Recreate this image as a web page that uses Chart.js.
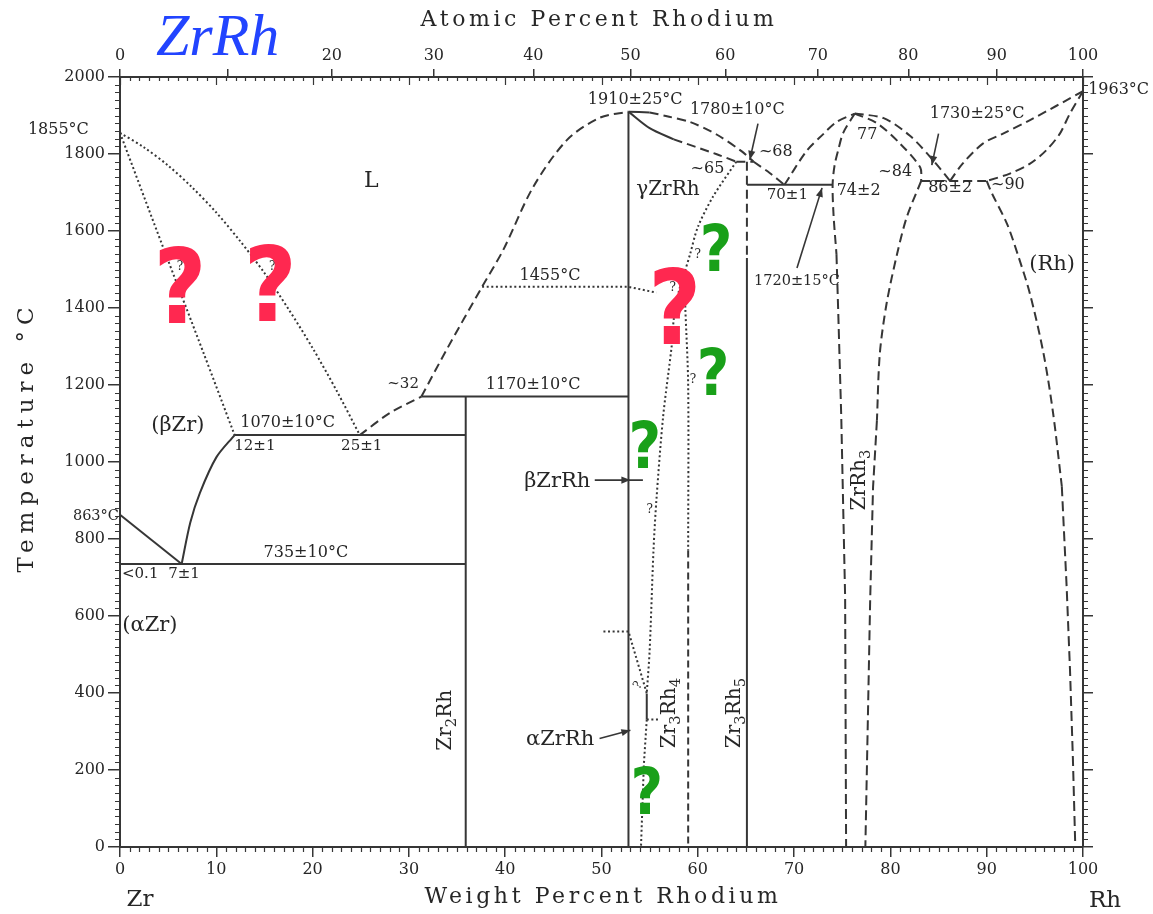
<!DOCTYPE html>
<html>
<head>
<meta charset="utf-8">
<title>Zr–Rh phase diagram</title>
<script src="https://cdn.jsdelivr.net/npm/chart.js@4.4.1/dist/chart.umd.min.js"></script>
<style>
  html, body { margin: 0; padding: 0; background: #ffffff; }
  canvas { display: block; }
</style>
</head>
<body>
<canvas id="diagram" width="1153" height="914"></canvas>
<script>
// Zr–Rh binary phase diagram: temperature (°C) against weight percent rhodium.

// ---------- axis ticks ----------
const weightPercentTicks = [0, 10, 20, 30, 40, 50, 60, 70, 80, 90, 100];
const atomicPercentTicks = [0, 10, 20, 30, 40, 50, 60, 70, 80, 90, 100];
const temperatureTicks = [0, 200, 400, 600, 800, 1000, 1200, 1400, 1600, 1800, 2000];

// atomic masses used to place the atomic-percent scale on the weight-percent axis
const M_ZR = 91.224, M_RH = 102.906;
function atToWt(a) { return 100 * a * M_RH / (a * M_RH + (100 - a) * M_ZR); }

// ---------- phase boundaries: [wt% Rh, °C] ----------
// Zr-rich side
const liquidusZr      = [[0,1855],[2.5,1817],[5,1770],[7.5,1713],[10,1648],[12.5,1573],[15,1491],[17.5,1397],[20,1296],[22.5,1185],[24.9,1070]];
const solidusBetaZr   = [[0,1855],[4.5,1556],[8.6,1288],[11.9,1070]];
const solvusBetaZr    = [[6.4,735],[7.3,843],[8.3,920],[10,1012],[11.9,1070]];
const solvusAlphaZr   = [[0,863],[6.4,735]];
const eutectoid735    = [[0,735],[35.9,735]];
const eutectic1070    = [[11.9,1070],[35.9,1070]];
const peritectic1170  = [[31.3,1170],[52.8,1170]];
const phaseZr2Rh      = [[35.9,0],[35.9,1170]];
const liquidusLow     = [[24.9,1070],[28,1127],[31.3,1170]];
const liquidusZrRhL   = [[31.3,1170],[33.9,1291],[37.6,1455],[39.8,1551],[42.9,1714],[46.4,1836],[49.8,1894],[52.8,1910]];
const transition1455  = [[37.6,1455],[52.8,1455],[55.7,1440]];

// ZrRh region
const phaseZrRh       = [[52.8,0],[52.8,1910]];
const solidusGammaA   = [[52.8,1910],[55,1867],[57.5,1838]];
const solidusGammaB   = [[57.5,1838],[61.9,1800],[64,1780]];
const liquidusGammaA  = [[52.8,1910],[55,1908]];
const liquidusGammaB  = [[55,1908],[56.8,1898],[59.2,1883],[62,1850],[64.5,1808],[65.8,1780]];
const peritectic1780  = [[64,1780],[65.8,1780]];
const boundaryGamma   = [[64,1780],[61.6,1690],[60,1610],[59.2,1540],[58.6,1490],[58,1440],[57.5,1370],[57.3,1304],[56.4,1118],[55.7,901],[55.4,771],[55,511],[54.7,399]];
const transition560   = [[50.2,560],[52.8,560],[54.7,399]];
const stepAlphaZrRh   = [[54.7,399],[54.7,331]];
const ledge331        = [[54.7,331],[56.1,331]];
const boundaryAlpha   = [[54.7,331],[54.4,215],[54.1,0]];
const phaseZr3Rh4Top  = [[58.6,1490],[58.7,1403],[59,1200],[59,770]];
const phaseZr3Rh4     = [[59,770],[59,0]];
const phaseZr3Rh5Top  = [[65.1,1780],[65.1,1530]];
const phaseZr3Rh5     = [[65.1,1530],[65.1,0]];

// ZrRh3 and Rh-rich side
const eutectic1720    = [[65.1,1720],[74,1720]];
const liquidusVLeft   = [[65.8,1780],[67.5,1750],[69,1720]];
const liquidusVRight  = [[69,1720],[71.3,1808],[73,1851],[74.4,1883],[76.3,1905]];
const liquidusZrRh3R  = [[76.3,1905],[79.3,1893],[82,1848],[84.5,1782],[86.2,1730]];
const boundaryZrRh3L  = [[76.3,1905],[75.1,1855],[74.6,1812],[74.2,1770],[74,1720],[74.1,1640],[74.4,1540]];
const boundaryZrRh3LLow = [[74.4,1540],[74.6,1375],[74.9,1115],[75.1,880],[75.3,648],[75.35,320],[75.4,0]];
const solidusZrRh3R   = [[76.3,1905],[78.6,1880],[81,1827],[83.1,1765],[83.2,1730]];
const solvusZrRh3R    = [[83.2,1730],[81.7,1636],[80.7,1541],[79.6,1411],[78.9,1281],[78.6,1108]];
const solvusZrRh3RLow = [[78.6,1108],[78.2,935],[77.9,642],[77.65,320],[77.4,0]];
const eutectic1730    = [[83.2,1730],[90,1730]];
const liquidusRh      = [[100,1963],[94.5,1888],[91.7,1853],[89.6,1827],[87.5,1775],[86.2,1730]];
const solidusRh       = [[100,1963],[98.6,1903],[97.6,1853],[96.2,1810],[94.5,1775],[92.4,1749],[90,1730]];
const solvusRh        = [[90,1730],[90.5,1700],[92.1,1619],[93.2,1541],[94.5,1436],[95.9,1282],[96.9,1126],[97.8,937]];
const solvusRhLow     = [[97.8,937],[98.3,677],[98.65,460],[98.95,230],[99.2,0]];

// ---------- drawing styles ----------
const INK = '#363636';
const TEXT = '#262626';
const SERIF = '"DejaVu Serif", "Liberation Serif", serif';
const DASHES = { solid: [], dashed: [9, 5], dotted: [2, 2.6], fine: [7, 4], long: [10, 5] };

const boundaries = [
  { pts: liquidusZr,        style: 'dotted', curve: true },
  { pts: solidusBetaZr,     style: 'dotted', curve: true },
  { pts: solvusBetaZr,      style: 'solid',  curve: true },
  { pts: solvusAlphaZr,     style: 'solid' },
  { pts: eutectoid735,      style: 'solid' },
  { pts: eutectic1070,      style: 'solid' },
  { pts: peritectic1170,    style: 'solid' },
  { pts: phaseZr2Rh,        style: 'solid' },
  { pts: liquidusLow,       style: 'dashed', curve: true },
  { pts: liquidusZrRhL,     style: 'dashed', curve: true },
  { pts: transition1455,    style: 'dotted' },
  { pts: phaseZrRh,         style: 'solid' },
  { pts: solidusGammaA,     style: 'solid',  curve: true },
  { pts: solidusGammaB,     style: 'dashed', curve: true },
  { pts: liquidusGammaA,    style: 'solid',  curve: true },
  { pts: liquidusGammaB,    style: 'dashed', curve: true },
  { pts: peritectic1780,    style: 'dashed' },
  { pts: boundaryGamma,     style: 'dotted', curve: true },
  { pts: transition560,     style: 'dotted' },
  { pts: stepAlphaZrRh,     style: 'solid' },
  { pts: ledge331,          style: 'dotted' },
  { pts: boundaryAlpha,     style: 'dotted' },
  { pts: phaseZr3Rh4Top,    style: 'dotted', curve: true },
  { pts: phaseZr3Rh4,       style: 'fine' },
  { pts: phaseZr3Rh5Top,    style: 'dashed' },
  { pts: phaseZr3Rh5,       style: 'solid' },
  { pts: eutectic1720,      style: 'solid' },
  { pts: liquidusVLeft,     style: 'dashed', curve: true },
  { pts: liquidusVRight,    style: 'dashed', curve: true },
  { pts: liquidusZrRh3R,    style: 'dashed', curve: true },
  { pts: boundaryZrRh3L,    style: 'dashed', curve: true },
  { pts: boundaryZrRh3LLow, style: 'long' },
  { pts: solidusZrRh3R,     style: 'dashed', curve: true },
  { pts: solvusZrRh3R,      style: 'dashed', curve: true },
  { pts: solvusZrRh3RLow,   style: 'long' },
  { pts: eutectic1730,      style: 'dashed' },
  { pts: liquidusRh,        style: 'dashed', curve: true },
  { pts: solidusRh,         style: 'dashed', curve: true },
  { pts: solvusRh,          style: 'dashed', curve: true },
  { pts: solvusRhLow,       style: 'long' }
];

// ---------- annotations (placed in wt% / °C) ----------
const notes = [
  { t: '1855°C',    x: -6.4,  y: 1863 },
  { t: '863°C',     x: -2.5,  y: 860, s: 14.5 },
  { t: '1963°C',    x: 103.7, y: 1967 },
  { t: 'L',         x: 26.1,  y: 1730, s: 22 },
  { t: '(βZr)',     x: 6.0,   y: 1094, s: 21 },
  { t: '1070±10°C', x: 17.4,  y: 1101 },
  { t: '12±1',      x: 14.0,  y: 1042, s: 15 },
  { t: '25±1',      x: 25.1,  y: 1042, s: 15 },
  { t: '~32',       x: 29.4,  y: 1203, s: 15 },
  { t: '1170±10°C', x: 42.9,  y: 1200 },
  { t: '735±10°C',  x: 19.3,  y: 763 },
  { t: '<0.1',      x: 2.1,   y: 709, s: 15 },
  { t: '7±1',       x: 6.65,  y: 709, s: 15 },
  { t: '(αZr)',     x: 3.1,   y: 576, s: 21 },
  { t: '1455°C',    x: 44.65, y: 1483 },
  { t: '1910±25°C', x: 53.5,  y: 1941 },
  { t: '1780±10°C', x: 64.1,  y: 1915 },
  { t: '~65',       x: 61.0,  y: 1762 },
  { t: '~68',       x: 68.1,  y: 1806 },
  { t: 'γZrRh',     x: 56.9,  y: 1707, s: 20 },
  { t: '70±1',      x: 69.3,  y: 1694, s: 15 },
  { t: '74±2',      x: 76.7,  y: 1704 },
  { t: '77',        x: 77.6,  y: 1850 },
  { t: '~84',       x: 80.5,  y: 1754 },
  { t: '86±2',      x: 86.2,  y: 1712 },
  { t: '~90',       x: 92.2,  y: 1720 },
  { t: '1730±25°C', x: 89.0,  y: 1904 },
  { t: '1720±15°C', x: 70.3,  y: 1470, s: 14.5 },
  { t: '(Rh)',      x: 96.8,  y: 1512, s: 21 },
  { t: 'βZrRh',     x: 45.4,  y: 948, s: 21 },
  { t: 'αZrRh',     x: 45.7,  y: 280, s: 21 }
];

// vertical phase names, read bottom to top; second entry of a part marks a subscript
const phaseNames = [
  { parts: [['ZrRh', 0], ['3', 1]],                    x: 76.8,  y: 953 },
  { parts: [['Zr', 0], ['3', 1], ['Rh', 0], ['4', 1]], x: 57.1,  y: 348 },
  { parts: [['Zr', 0], ['3', 1], ['Rh', 0], ['5', 1]], x: 63.8,  y: 348 },
  { parts: [['Zr', 0], ['2', 1], ['Rh', 0]],           x: 33.85, y: 329 }
];

// uncertainty marks
const smallQueries = [
  { x: 6.23, y: 1508 }, { x: 15.8, y: 1508 }, { x: 57.4, y: 1452 },
  { x: 60.0, y: 1538 }, { x: 59.5, y: 1213 }, { x: 55.0, y: 875 },
  { x: 53.8, y: 420, rot: -1.0 }
];
const redQueries   = [{ x: 6.23, y: 1460 }, { x: 15.6, y: 1465 }, { x: 57.6, y: 1405 }];
const greenQueries = [{ x: 61.9, y: 1556 }, { x: 61.6, y: 1234 }, { x: 54.5, y: 1045 }, { x: 54.7, y: 147 }];

// leader arrows: tail -> tip, optional overshoot past the tip
const arrows = [
  { from: [66.25, 1879], to: [65.4, 1785] },
  { from: [85.0, 1853],  to: [84.3, 1771] },
  { from: [70.3, 1504],  to: [72.9, 1712] },
  { from: [49.3, 953],   to: [53.0, 953], past: [54.3, 953] },
  { from: [49.8, 282],   to: [53.0, 303] }
];

// ---------- helpers ----------
function font(size, extra) { return (extra ? extra + ' ' : '') + size + 'px ' + SERIF; }

function drawRich(ctx, parts, cx, cy, size, rot) {
  ctx.save();
  ctx.translate(cx, cy);
  ctx.rotate(rot);
  let w = 0;
  for (const [t, sub] of parts) { ctx.font = font(sub ? size * 0.74 : size); w += ctx.measureText(t).width; }
  let x = -w / 2;
  ctx.textAlign = 'left';
  ctx.textBaseline = 'middle';
  for (const [t, sub] of parts) {
    ctx.font = font(sub ? size * 0.74 : size);
    ctx.fillText(t, x, sub ? size * 0.32 : 0);
    x += ctx.measureText(t).width;
  }
  ctx.restore();
}

function arrowHead(ctx, x0, y0, x1, y1) {
  const a = Math.atan2(y1 - y0, x1 - x0), L = 9, W = 3.6;
  ctx.beginPath();
  ctx.moveTo(x1, y1);
  ctx.lineTo(x1 - L * Math.cos(a) + W * Math.sin(a), y1 - L * Math.sin(a) - W * Math.cos(a));
  ctx.lineTo(x1 - L * Math.cos(a) - W * Math.sin(a), y1 - L * Math.sin(a) + W * Math.cos(a));
  ctx.closePath();
  ctx.fill();
}

// large question mark, slightly condensed
function bigQuery(ctx, x, y, size, color) {
  ctx.save();
  ctx.translate(x, y + 0.365 * size);
  ctx.scale(0.88, 1);
  ctx.font = 'bold ' + size + 'px "DejaVu Sans", sans-serif';
  ctx.fillStyle = color;
  ctx.textAlign = 'center';
  ctx.textBaseline = 'alphabetic';
  ctx.fillText('?', 0, 0);
  ctx.restore();
}

// minor tick marks on all four sides of the frame
const minorTicks = {
  id: 'minorTicks',
  afterDraw(chart) {
    const { ctx, chartArea: a, scales } = chart;
    const x = scales.x, y = scales.y;
    ctx.save();
    ctx.strokeStyle = INK;
    ctx.lineWidth = 1.2;
    ctx.beginPath();
    for (let v = 0; v <= 100; v++) {
      const px = Math.round(x.getPixelForValue(v)) + 0.5;
      if (v % 10 !== 0) { ctx.moveTo(px, a.bottom); ctx.lineTo(px, a.bottom + 5); }
      const inward = v % 10 === 0 ? 8 : 4;
      ctx.moveTo(px, a.top); ctx.lineTo(px, a.top + inward);
    }
    for (let t = 0; t <= 2000; t += 20) {
      if (t % 200 === 0) continue;
      const py = Math.round(y.getPixelForValue(t)) + 0.5;
      ctx.moveTo(a.left, py); ctx.lineTo(a.left - 5, py);
      ctx.moveTo(a.right, py); ctx.lineTo(a.right + 5, py);
    }
    ctx.stroke();
    ctx.restore();
  }
};

// labels, arrows, titles
const decorations = {
  id: 'decorations',
  afterDraw(chart) {
    const { ctx, scales } = chart;
    const X = v => scales.x.getPixelForValue(v);
    const Y = v => scales.y.getPixelForValue(v);
    ctx.save();
    ctx.fillStyle = TEXT;
    ctx.textAlign = 'center';
    ctx.textBaseline = 'middle';

    for (const n of notes) {
      ctx.font = font(n.s || 16);
      ctx.fillText(n.t, X(n.x), Y(n.y));
    }
    for (const p of phaseNames) drawRich(ctx, p.parts, X(p.x), Y(p.y), 20, -Math.PI / 2);

    // arrows
    ctx.strokeStyle = INK;
    ctx.lineWidth = 1.6;
    for (const ar of arrows) {
      const x0 = X(ar.from[0]), y0 = Y(ar.from[1]), x1 = X(ar.to[0]), y1 = Y(ar.to[1]);
      ctx.beginPath();
      ctx.moveTo(x0, y0);
      if (ar.past) ctx.lineTo(X(ar.past[0]), Y(ar.past[1])); else ctx.lineTo(x1, y1);
      ctx.stroke();
      ctx.fillStyle = INK;
      arrowHead(ctx, x0, y0, x1, y1);
    }

    // small uncertainty marks
    ctx.fillStyle = TEXT;
    ctx.font = font(12);
    for (const q of smallQueries) {
      ctx.save();
      ctx.translate(X(q.x), Y(q.y));
      ctx.rotate(q.rot || 0);
      ctx.fillText('?', 0, 0);
      ctx.restore();
    }

    // large coloured question marks
    for (const q of redQueries) bigQuery(ctx, X(q.x), Y(q.y), 104, '#ff2850');
    for (const q of greenQueries) bigQuery(ctx, X(q.x), Y(q.y), 64, '#19a019');

    // axis titles and element names
    ctx.fillStyle = TEXT;
    ctx.textAlign = 'center';
    ctx.textBaseline = 'middle';
    ctx.font = font(22);
    ctx.letterSpacing = '3.6px';
    ctx.fillText('Atomic Percent Rhodium', 599, 20);
    ctx.fillText('Weight Percent Rhodium', 603, 897);
    ctx.save();
    ctx.translate(27, 437);
    ctx.rotate(-Math.PI / 2);
    ctx.font = font(23);
    ctx.letterSpacing = '6px';
    ctx.fillText('Temperature °C', 0, 0);
    ctx.restore();
    ctx.letterSpacing = '0px';
    ctx.font = font(23);
    ctx.fillText('Zr', 140, 900);
    ctx.fillText('Rh', 1105, 901);

    // compound title
    ctx.textAlign = 'left';
    ctx.textBaseline = 'alphabetic';
    ctx.font = 'italic 60px "Liberation Serif", "DejaVu Serif", serif';
    ctx.fillStyle = '#2244ff';
    ctx.fillText('ZrRh', 156, 55);
    ctx.restore();
  }
};

// ---------- chart ----------
const tickFont = { family: SERIF, size: 16 };
const frame = { display: true, color: INK, width: 2 };

new Chart(document.getElementById('diagram'), {
  type: 'scatter',
  data: {
    datasets: boundaries.map(b => ({
      data: b.pts.map(([x, y]) => ({ x, y })),
      showLine: true,
      borderColor: INK,
      borderWidth: 2,
      borderDash: DASHES[b.style],
      pointRadius: 0,
      pointHoverRadius: 0,
      tension: b.curve ? 0.3 : 0,
      fill: false
    }))
  },
  options: {
    responsive: false,
    devicePixelRatio: 1,
    animation: false,
    events: [],
    layout: { padding: 0 },
    plugins: { legend: { display: false }, tooltip: { enabled: false } },
    scales: {
      x: {
        type: 'linear', position: 'bottom', min: 0, max: 100,
        afterBuildTicks: s => { s.ticks = weightPercentTicks.map(v => ({ value: v })); },
        afterFit: s => { s.height = 67; },
        ticks: { font: tickFont, color: TEXT, padding: 3, maxRotation: 0, autoSkip: false, callback: v => String(v) },
        grid: { drawOnChartArea: false, tickLength: 10, color: INK, lineWidth: 1.5 },
        border: frame
      },
      xTop: {
        type: 'linear', position: 'top', min: 0, max: 100,
        afterBuildTicks: s => { s.ticks = atomicPercentTicks.map(a => ({ value: atToWt(a) })); },
        afterFit: s => { s.height = 77; },
        ticks: {
          font: tickFont, color: TEXT, padding: 4, maxRotation: 0, autoSkip: false,
          callback: (v, i) => (atomicPercentTicks[i] === 10 ? '' : String(atomicPercentTicks[i]))
        },
        grid: { drawOnChartArea: false, tickLength: 8, color: INK, lineWidth: 1.5 },
        border: frame
      },
      y: {
        type: 'linear', position: 'left', min: 0, max: 2000,
        afterBuildTicks: s => { s.ticks = temperatureTicks.map(v => ({ value: v })); },
        afterFit: s => { s.width = 120; },
        ticks: { font: tickFont, color: TEXT, padding: 3, autoSkip: false, callback: v => String(v) },
        grid: { drawOnChartArea: false, tickLength: 12, color: INK, lineWidth: 1.5 },
        border: frame
      },
      yRight: {
        type: 'linear', position: 'right', min: 0, max: 2000,
        afterBuildTicks: s => { s.ticks = temperatureTicks.map(v => ({ value: v })); },
        afterFit: s => { s.width = 70; },
        ticks: { display: false },
        grid: { drawOnChartArea: false, tickLength: 10, color: INK, lineWidth: 1.5 },
        border: frame
      }
    }
  },
  plugins: [minorTicks, decorations]
});
</script>
</body>
</html>
